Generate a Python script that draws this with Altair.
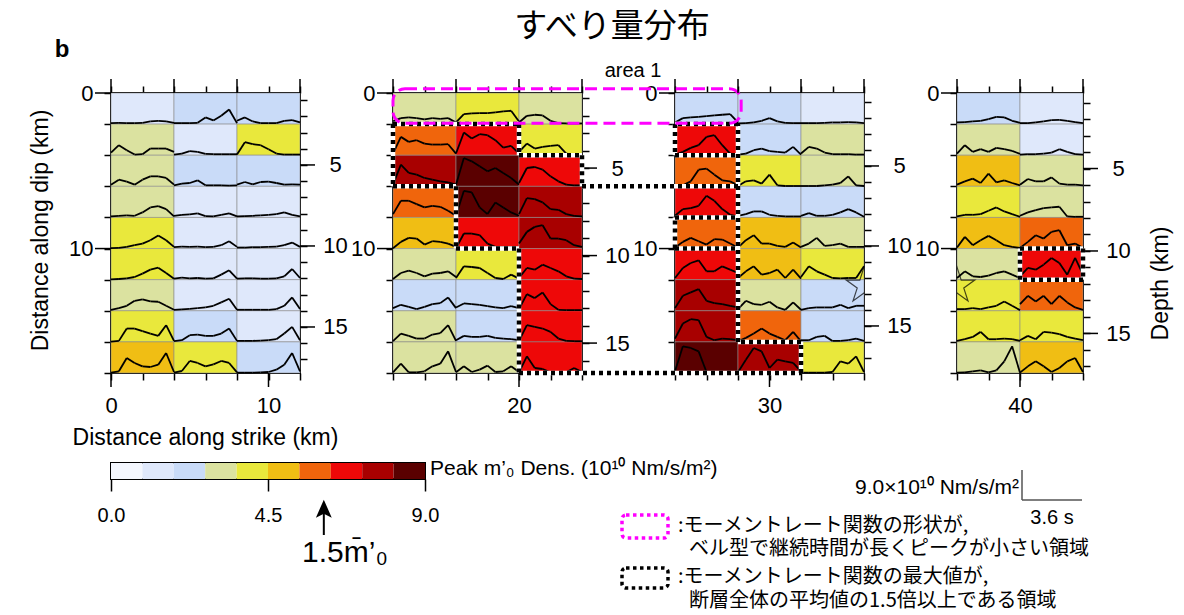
import altair as alt
import pandas as pd

# ---------------- layout constants ----------------
PX_PER_KM = 15.75
PANEL_H = 280
PANEL_START = [0, 12, 24, 36]
PANEL_END = [12, 24, 36, 44]
COL_W = 4
ROW_H = 2
GAP_PX = 93
WIDTHS = [round((e - s) * PX_PER_KM) for s, e in zip(PANEL_START, PANEL_END)]
ORIGINS = [sum(WIDTHS[:k]) + GAP_PX * k for k in range(4)]
LEGEND_TOP = 463 - 93   # offset of the colour bar below the top of the panels

DEPTH_DOMAIN = [[0.56, 17.84], [0.71, 16.71], [0.44, 17.94], [0.42, 17.40]]

# ---------------- colour scale ----------------
COLOR_BREAKS = [0.9, 1.8, 2.7, 3.6, 4.5, 5.4, 6.3, 7.2, 8.1]
COLORS = ["#f4f7fe", "#dfe8fb", "#c9dbf8", "#dbe2a0", "#e9e83c",
          "#f0be14", "#f0650c", "#ee0808", "#a80000", "#5a0000"]
COLORBAR_EDGES = [0.0, 0.9, 1.8, 2.7, 3.6, 4.5, 5.4, 6.3, 7.2, 8.1, 9.0]
COLORBAR_TICKS = [0.0, 4.5, 9.0]
THRESHOLD = 6.1  # 1.5 x mean peak

# ---------------- cell peak values (10^10 Nm/s/m^2) ----------------
P1_PEAK = [[1.4, 2.2, 2.2], [3.1, 1.4, 4.0], [3.1, 2.2, 2.2], [3.1, 1.4, 1.4], [4.0, 1.4, 1.4],
           [4.0, 1.4, 1.4], [3.1, 1.4, 1.4], [4.0, 2.2, 1.4], [5.0, 4.0, 2.2]]
P2_PEAK = [[3.1, 4.0, 3.1], [5.8, 6.8, 4.0], [7.6, 8.6, 6.8], [5.8, 8.6, 7.6], [5.0, 6.8, 7.6],
           [3.1, 4.0, 6.8], [2.2, 2.2, 6.8], [3.1, 2.2, 6.8], [3.1, 3.1, 6.8]]
P3_PEAK = [[2.2, 2.2, 1.4], [6.8, 2.2, 3.1], [5.8, 4.0, 3.1], [6.8, 2.2, 2.2], [5.8, 5.0, 3.1],
           [6.8, 5.0, 4.0], [7.6, 3.1, 2.2], [7.6, 5.8, 2.2], [8.6, 7.6, 4.0]]
P4_PEAK = [[2.2, 1.4], [3.1, 1.4], [5.0, 3.1], [4.0, 3.1], [5.0, 5.8],
           [3.1, 6.8], [4.0, 5.8], [4.0, 4.0], [3.1, 5.0]]

# ---------------- moment-rate functions (10^10 Nm/s/m^2), 9 samples per cell ----------------
P1_WAVE = [
    [[0.3, 0.4, 0.3, 0.3, 0.4, 0.8, 1.0, 0.8, 0.4], [0.3, 0.3, 0.3, 0.4, 2.0, 1.1, 2.5, 4.4, 0.3], [1.0, 2.0, 0.8, 0.3, 0.3, 0.3, 1.0, 1.2, 0.5]],
    [[0.8, 3.0, 1.5, 0.2, 0.3, 2.0, 2.0, 2.0, 1.0], [0.2, 0.5, 1.2, 1.0, 0.4, 0.3, 0.3, 0.3, 0.3], [0.2, 3.9, 3.3, 3.0, 1.8, 0.5, 0.2, 0.2, 0.2]],
    [[0.5, 2.0, 1.4, 0.5, 2.0, 3.0, 3.0, 2.5, 0.5], [0.3, 0.8, 1.0, 1.8, 0.3, 0.3, 0.3, 0.2, 0.3], [0.5, 1.3, 0.6, 1.3, 1.4, 1.0, 0.5, 0.6, 0.5]],
    [[0.3, 0.5, 0.6, 0.5, 1.5, 3.0, 3.4, 2.5, 0.3], [0.5, 0.8, 0.9, 1.2, 0.4, 0.3, 0.8, 1.2, 0.3], [0.3, 0.4, 0.5, 0.6, 0.8, 1.0, 1.5, 0.8, 0.3]],
    [[0.1, 0.2, 0.5, 1.0, 1.5, 2.5, 3.9, 2.5, 0.5], [0.4, 0.6, 0.5, 0.6, 0.4, 0.5, 1.0, 2.2, 0.5], [0.3, 0.3, 0.4, 0.4, 0.5, 0.6, 1.0, 1.8, 0.5]],
    [[0.1, 0.2, 0.4, 0.8, 1.8, 3.0, 3.6, 2.0, 0.3], [0.3, 0.6, 0.4, 0.5, 0.3, 0.4, 1.5, 2.8, 0.3], [0.3, 0.4, 0.4, 0.3, 0.3, 0.4, 1.0, 3.2, 0.5]],
    [[0.3, 0.8, 1.5, 3.0, 3.4, 2.8, 2.7, 1.5, 0.3], [0.3, 0.4, 0.6, 0.8, 1.0, 1.5, 2.5, 3.6, 0.3], [0.3, 0.3, 0.3, 0.3, 0.3, 0.5, 1.5, 4.0, 0.5]],
    [[0.1, 0.3, 4.0, 4.0, 3.2, 2.5, 1.8, 5.0, 0.3], [0.2, 0.5, 2.0, 2.2, 1.8, 1.8, 2.5, 4.0, 0.3], [0.3, 0.3, 0.3, 0.4, 0.5, 0.8, 2.5, 4.5, 0.5]],
    [[0.1, 0.5, 4.5, 3.0, 2.0, 1.8, 2.5, 6.0, 0.3], [0.1, 0.6, 3.6, 3.0, 2.0, 2.6, 3.6, 3.0, 0.2], [0.1, 0.1, 0.1, 0.2, 0.3, 1.0, 2.5, 6.0, 0.5]],
]
P2_WAVE = [
    [[0.8, 1.8, 2.0, 1.8, 1.4, 1.8, 1.6, 1.8, 0.5], [0.5, 3.0, 3.2, 3.3, 3.3, 3.5, 3.8, 4.0, 0.8], [0.5, 2.5, 2.8, 2.6, 1.0, 0.3, 0.2, 0.2, 0.2]],
    [[0.5, 5.5, 4.0, 4.5, 3.5, 3.2, 3.2, 3.3, 0.5], [0.5, 6.8, 5.0, 6.3, 6.0, 4.5, 2.3, 2.8, 0.5], [1.0, 3.5, 2.0, 2.5, 2.8, 3.0, 0.5, 0.2, 0.2]],
    [[0.5, 6.5, 4.0, 3.5, 2.5, 2.0, 1.5, 1.2, 0.5], [0.5, 8.5, 7.5, 6.0, 4.5, 5.5, 4.0, 2.5, 0.5], [1.0, 5.5, 5.8, 5.0, 3.0, 1.5, 0.5, 0.3, 0.3]],
    [[1.0, 5.0, 5.0, 4.0, 3.0, 3.5, 3.2, 2.0, 0.5], [0.5, 8.0, 7.5, 3.0, 1.0, 4.5, 3.0, 1.5, 0.5], [1.0, 5.8, 5.5, 4.5, 2.5, 2.3, 1.0, 0.5, 0.3]],
    [[0.1, 2.0, 3.2, 3.0, 1.2, 2.2, 2.0, 1.5, 0.5], [0.1, 4.5, 4.5, 4.0, 1.5, 0.5, 0.5, 0.5, 0.3], [1.5, 5.0, 6.5, 7.0, 3.0, 3.0, 2.5, 1.0, 0.5]],
    [[0.2, 2.0, 2.7, 2.0, 1.0, 1.8, 2.0, 2.5, 0.8], [0.5, 4.0, 3.8, 3.5, 2.0, 0.5, 0.2, 1.5, 0.3], [0.5, 3.5, 3.0, 4.5, 3.5, 2.5, 1.0, 0.3, 0.2]],
    [[0.8, 1.8, 1.2, 0.5, 1.2, 2.0, 2.3, 4.0, 0.8], [1.0, 2.2, 2.0, 1.8, 1.4, 1.0, 0.8, 1.4, 0.8], [0.5, 5.0, 3.8, 5.5, 2.0, 0.3, 0.2, 0.2, 0.2]],
    [[0.2, 2.5, 1.8, 1.0, 1.0, 2.2, 2.6, 5.0, 0.3], [0.5, 1.8, 1.5, 1.5, 1.8, 1.2, 1.0, 0.8, 0.5], [0.3, 5.0, 4.5, 4.0, 3.0, 1.0, 0.3, 0.2, 0.2]],
    [[0.2, 2.8, 0.2, 0.2, 0.5, 2.0, 2.8, 6.5, 0.3], [0.2, 2.0, 0.3, 1.0, 2.2, 0.3, 0.5, 2.0, 0.3], [0.2, 5.0, 1.5, 1.2, 0.2, 0.2, 0.2, 1.5, 0.3]],
]
P3_WAVE = [
    [[0.5, 1.8, 2.0, 2.2, 2.4, 2.6, 2.8, 3.0, 0.5], [0.2, 0.3, 0.5, 1.0, 1.8, 0.8, 0.4, 0.3, 0.3], [0.3, 0.3, 0.3, 0.4, 0.5, 0.5, 0.6, 0.5, 0.3]],
    [[0.1, 1.0, 2.2, 3.0, 5.5, 6.0, 3.0, 0.5, 0.1], [0.2, 0.5, 1.5, 2.0, 1.2, 1.0, 0.8, 2.5, 0.2], [0.5, 2.5, 2.0, 0.8, 0.3, 0.3, 0.3, 0.2, 0.2]],
    [[0.1, 0.3, 1.5, 5.0, 5.3, 3.5, 1.8, 1.5, 0.3], [0.1, 1.5, 1.8, 0.8, 3.5, 0.3, 0.1, 0.1, 0.1], [0.1, 0.1, 0.1, 0.3, 0.5, 1.0, 3.0, 0.3, 0.1]],
    [[0.5, 2.5, 2.8, 3.5, 6.5, 5.0, 2.5, 0.8, 0.3], [0.5, 1.0, 1.8, 1.8, 0.8, 0.5, 0.3, 0.3, 0.3], [0.5, 1.3, 0.5, 0.5, 0.8, 1.5, 2.5, 1.5, 0.2]],
    [[0.3, 2.0, 3.2, 2.2, 1.2, 2.8, 2.7, 1.5, 0.3], [0.3, 2.5, 4.0, 1.5, 1.5, 0.8, 0.5, 1.8, 0.3], [0.5, 1.5, 3.2, 0.8, 1.0, 1.5, 0.5, 0.5, 0.5]],
    [[0.5, 3.5, 5.0, 5.8, 2.5, 2.5, 4.0, 3.0, 2.0], [0.5, 2.5, 4.0, 1.5, 2.0, 3.0, 0.5, 3.0, 0.3], [0.8, 4.0, 2.5, 1.5, 0.5, 0.4, 0.5, 0.5, 4.0]],
    [[0.8, 4.5, 5.5, 6.5, 3.0, 2.3, 2.0, 1.5, 1.0], [0.5, 3.0, 2.0, 1.8, 2.7, 1.0, 0.3, 2.5, 0.3], [0.3, 0.8, 1.0, 1.0, 1.0, 1.8, 0.8, 1.5, 1.5]],
    [[1.0, 5.5, 6.8, 6.5, 1.5, 0.5, 1.0, 0.8, 0.5], [0.2, 1.2, 2.5, 4.0, 2.5, 1.5, 0.5, 3.0, 0.2], [0.5, 0.5, 1.5, 1.8, 0.3, 0.3, 0.5, 1.0, 0.3]],
    [[0.5, 8.0, 7.5, 6.5, 0.3, 0.2, 0.2, 0.2, 0.2], [0.2, 4.0, 7.5, 6.5, 1.5, 4.0, 3.5, 3.0, 0.5], [0.1, 0.1, 0.1, 0.1, 0.3, 3.5, 2.8, 5.0, 0.3]],
]
P4_WAVE = [
    [[0.5, 0.6, 0.8, 1.0, 1.5, 2.2, 2.0, 1.0, 0.4], [0.3, 0.3, 0.5, 0.8, 1.2, 1.3, 1.0, 0.6, 0.3]],
    [[0.5, 3.0, 1.0, 1.8, 1.0, 2.2, 1.8, 1.3, 0.4], [0.2, 0.3, 0.3, 0.5, 0.8, 1.8, 1.0, 0.3, 0.2]],
    [[0.5, 1.5, 2.3, 1.0, 3.8, 1.2, 1.8, 1.0, 0.3], [0.5, 2.2, 1.5, 1.5, 2.7, 0.8, 0.5, 0.5, 0.3]],
    [[0.3, 0.8, 0.8, 1.0, 2.0, 3.0, 1.8, 1.0, 0.2], [0.5, 1.5, 2.2, 2.8, 3.0, 3.2, 0.3, 0.2, 0.2]],
    [[0.3, 3.5, 1.0, 2.5, 3.8, 2.5, 1.0, 0.5, 0.2], [0.2, 2.0, 4.0, 3.0, 5.0, 5.5, 1.0, 1.5, 0.2]],
    [[0.5, 2.5, 1.0, 0.8, 1.2, 2.0, 2.5, 1.5, 0.5], [1.0, 3.5, 3.0, 4.5, 6.5, 5.0, 1.5, 6.5, 1.5]],
    [[0.5, 0.5, 0.8, 0.5, 1.0, 1.5, 2.8, 1.5, 0.2], [2.0, 4.5, 2.8, 4.5, 2.0, 4.5, 2.5, 1.0, 0.3]],
    [[0.3, 0.8, 1.5, 3.0, 0.8, 0.8, 1.0, 0.8, 0.3], [0.5, 1.8, 0.8, 3.0, 2.8, 2.3, 1.5, 1.0, 0.5]],
    [[0.1, 0.2, 0.5, 0.8, 0.2, 0.8, 3.5, 8.0, 0.1], [0.1, 2.0, 3.5, 2.0, 0.3, 1.5, 3.5, 4.5, 0.3]],
]
PEAKS = [P1_PEAK, P2_PEAK, P3_PEAK, P4_PEAK]
WAVES = [P1_WAVE, P2_WAVE, P3_WAVE, P4_WAVE]

SAMPLE_DT = 0.4725          # s between samples
KM_PER_S = 4.0 / 3.78       # along-strike km per second of waveform
WAVE_UNIT_KM = 1.93 / 9.0   # dip-km per 10^10 Nm/s/m^2
SCALE_BAR_AMP = 9.0
SCALE_BAR_T = 3.6

# dotted outlines: (panel number, km along strike, km along dip)
OUTLINE_P23 = [
    [(2, 12, 2), (2, 12, 6), (2, 16, 6), (2, 16, 10), (2, 20, 10), (2, 20, 18), (3, 32, 18),
     (3, 32, 16), (3, 28, 16), (3, 28, 2), (3, 24, 2), (3, 24, 4)],
    [(2, 12, 2), (2, 20, 2), (2, 20, 4), (2, 24, 4), (2, 24, 6), (3, 28, 6)],
    [(3, 24, 4), (3, 28, 4)],
    [(3, 24, 10), (3, 24, 8), (3, 28, 8)],
    [(3, 24, 10), (3, 28, 10)],
]
OUTLINE_P4 = [[(4, 40, 10), (4, 44, 10), (4, 44, 12), (4, 40, 12), (4, 40, 10)]]
MAGENTA_BOX = [(2, 12, -0.28), (3, 28.2, 1.95)]
STAR = (36, 12.4)
STAR_PATH = ("M0,-1L0.2245,-0.309L0.951,-0.309L0.363,0.118L0.588,0.809L0,0.382L-0.588,0.809"
             "L-0.363,0.118L-0.951,-0.309L-0.2245,-0.309Z")
ARROW_PATH = "M0,-1L0.6,0.35L0,0.05L-0.6,0.35Z"


def host_x(panel, km, host):
    j, h = panel - 1, host - 1
    return km - PANEL_START[j] + PANEL_START[h] + (ORIGINS[j] - ORIGINS[h]) / PX_PER_KM


def cell_frame(k):
    recs = []
    for r, row in enumerate(PEAKS[k]):
        for c, v in enumerate(row):
            x0 = PANEL_START[k] + c * COL_W
            recs.append(dict(x0=x0, x1=x0 + COL_W, d0=r * ROW_H, d1=(r + 1) * ROW_H, peak=v))
    return pd.DataFrame(recs)


def wave_segments(k):
    recs = []
    for r, row in enumerate(WAVES[k]):
        for c, w in enumerate(row):
            x0 = PANEL_START[k] + c * COL_W
            base = (r + 1) * ROW_H
            pts = [(x0 + i * SAMPLE_DT * KM_PER_S, base - a * WAVE_UNIT_KM) for i, a in enumerate(w)]
            for (xa, ya), (xb, yb) in zip(pts[:-1], pts[1:]):
                recs.append(dict(x=xa, y=ya, x2=xb, y2=yb))
    return pd.DataFrame(recs)


def outline_segments(polys, host):
    recs = []
    for poly in polys:
        pts = [(host_x(p, km, host), dip) for p, km, dip in poly]
        for (xa, ya), (xb, yb) in zip(pts[:-1], pts[1:]):
            recs.append(dict(x=xa, y=ya, x2=xb, y2=yb))
    return pd.DataFrame(recs)


color_scale = alt.Scale(type="threshold", domain=COLOR_BREAKS, range=COLORS)
FONT = "Liberation Sans"
JP = "Noto Sans CJK JP"
one = pd.DataFrame({"a": [0]})
TICK = 7


def seg_chart(df, xs, ys, **mark):
    return alt.Chart(df).mark_rule(**mark).encode(
        x=alt.X("x:Q", scale=xs, axis=None), x2="x2:Q",
        y=alt.Y("y:Q", scale=ys, axis=None), y2="y2:Q")


def panel(k):
    s, e = PANEL_START[k], PANEL_END[k]
    W = WIDTHS[k]
    xs = alt.Scale(domain=[s, e], nice=False, zero=False)
    ys = alt.Scale(domain=[0, 18], reverse=True, nice=False, zero=False)
    dlo, dhi = DEPTH_DOMAIN[k]
    ds = alt.Scale(domain=[dlo, dhi], reverse=True, nice=False, zero=False)
    evens = list(range(s, e + 1, 2))

    bkw = dict(orient="bottom", values=evens, labelExpr="datum.value % 10 === 0 ? datum.label : ''",
               tickSize=TICK, labelPadding=15, labelFlush=False, labelOverlap=False)
    if k == 0:
        bkw.update(title="Distance along strike (km)", titleX=94, titleY=64,
                   titleAlign="center", titleBaseline="middle")
    else:
        bkw["title"] = None
    lkw = dict(orient="left", values=list(range(0, 19, 2)),
               labelExpr="datum.value % 10 === 0 ? datum.label : ''",
               tickSize=TICK, labelPadding=11, labelOverlap=False)
    if k == 0:
        lkw.update(title="Distance along dip (km)", titleX=-71, titleY=137, titleAngle=270,
                   titleAlign="center", titleBaseline="middle")
    else:
        lkw["title"] = None

    cells = alt.Chart(cell_frame(k)).mark_rect(stroke="#8c8c8c", strokeWidth=0.6).encode(
        x=alt.X("x0:Q", scale=xs, axis=alt.Axis(**bkw)), x2="x1:Q",
        y=alt.Y("d0:Q", scale=ys, axis=alt.Axis(**lkw)), y2="d1:Q",
        color=alt.Color("peak:Q", scale=color_scale, legend=None))

    waves = seg_chart(wave_segments(k), xs, ys, color="black", strokeWidth=1.8)

    top = alt.Chart(pd.DataFrame({"km": evens})).mark_point(opacity=0).encode(
        x=alt.X("km:Q", scale=xs, axis=alt.Axis(orient="top", values=evens, labels=False, title=None,
                                                tickSize=TICK)))

    dvals = [d for d in range(0, 19) if dlo <= d <= dhi]
    rkw = dict(orient="right", values=dvals, labelExpr="datum.value % 5 === 0 ? datum.label : ''",
               tickSize=TICK, labelAlign="center", labelPadding=28, labelOverlap=False)
    if k == 3:
        rkw.update(title="Depth (km)", titleX=77, titleY=190, titleAngle=270,
                   titleAlign="center", titleBaseline="middle")
    else:
        rkw["title"] = None
    depth = alt.Chart(pd.DataFrame({"depth": [dlo, dhi]})).mark_point(opacity=0).encode(
        y=alt.Y("depth:Q", scale=ds, axis=alt.Axis(**rkw)))

    # long (major) ticks drawn as rules at the labelled positions
    major_x = pd.DataFrame({"v": [v for v in evens if v % 10 == 0]})
    top_major = pd.DataFrame({"v": [v for v in evens if v % 4 == 0]})
    major_dip = pd.DataFrame({"v": [0, 10]})
    major_depth = pd.DataFrame({"v": [v for v in dvals if v % 5 == 0]})
    tick_layers = [
        alt.Chart(major_x).mark_rule(color="black", strokeWidth=1.5).encode(
            x=alt.X("v:Q", scale=xs, axis=None), y=alt.value(PANEL_H), y2=alt.value(PANEL_H + 14)),
        alt.Chart(top_major).mark_rule(color="black", strokeWidth=1.5).encode(
            x=alt.X("v:Q", scale=xs, axis=None), y=alt.value(0), y2=alt.value(-14)),
        alt.Chart(major_dip).mark_rule(color="black", strokeWidth=1.5).encode(
            y=alt.Y("v:Q", scale=ys, axis=None), x=alt.value(0), x2=alt.value(-16)),
        alt.Chart(major_depth).mark_rule(color="black", strokeWidth=1.5).encode(
            y=alt.Y("v:Q", scale=ds, axis=None), x=alt.value(W), x2=alt.value(W + 15)),
    ]

    layers = [cells, waves]

    if k == 2:
        od = outline_segments(OUTLINE_P23, 3)
        layers += [seg_chart(od, xs, ys, color="white", strokeWidth=4.5),
                   seg_chart(od, xs, ys, color="black", strokeWidth=4.5, strokeDash=[4, 4])]
        (p1, x1, y1), (p2, x2, y2) = MAGENTA_BOX
        mdf = pd.DataFrame({"x": [host_x(p1, x1, 3)], "x2": [host_x(p2, x2, 3)], "y": [y1], "y2": [y2]})
        layers.append(alt.Chart(mdf).mark_rect(fillOpacity=0, stroke="#ff00ff", strokeWidth=3,
                                               strokeDash=[12, 6], cornerRadius=12).encode(
            x=alt.X("x:Q", scale=xs, axis=None), x2="x2:Q",
            y=alt.Y("y:Q", scale=ys, axis=None), y2="y2:Q"))
        layers.append(alt.Chart(one).mark_text(text="area 1", font=FONT, fontSize=20).encode(
            x=alt.value(-42), y=alt.value(-22)))
    if k == 3:
        od = outline_segments(OUTLINE_P4, 4)
        layers += [seg_chart(od, xs, ys, color="white", strokeWidth=4.5),
                   seg_chart(od, xs, ys, color="black", strokeWidth=4.5, strokeDash=[4, 4])]
    if k in (2, 3):
        layers.append(alt.Chart(pd.DataFrame({"x": [STAR[0]], "y": [STAR[1]]})).mark_point(
            shape=STAR_PATH, size=1400, filled=False, color="black", strokeWidth=1.2, clip=True).encode(
            x=alt.X("x:Q", scale=xs, axis=None), y=alt.Y("y:Q", scale=ys, axis=None)))
    if k == 0:
        layers.append(alt.Chart(one).mark_text(text="すべり量分布", font=JP, fontSize=33).encode(
            x=alt.value(501), y=alt.value(-66)))
        layers.append(alt.Chart(one).mark_text(text="b", font=FONT, fontSize=24, fontWeight="bold").encode(
            x=alt.value(-49), y=alt.value(-43)))
    layers += tick_layers + [top, depth]
    return alt.layer(*layers).resolve_scale(y="independent").resolve_axis(
        x="independent", y="independent").properties(width=W, height=PANEL_H)


panels = alt.hconcat(*[panel(k) for k in range(4)], spacing=GAP_PX, bounds="flush")

# ---------------- legend row ----------------
LEG_W = 314
cb = pd.DataFrame({"lo": COLORBAR_EDGES[:-1], "hi": COLORBAR_EDGES[1:]})
cb["mid"] = (cb["lo"] + cb["hi"]) / 2
lx = alt.Scale(domain=[0, 9], nice=False, zero=False)
leg_axis = alt.Axis(values=COLORBAR_TICKS, format=".1f", tickSize=12, labelPadding=14, labelFontSize=20,
                    labelFlush=False, labelOverlap=False, title=None, domain=False)

bar = alt.Chart(cb).mark_rect().encode(
    x=alt.X("lo:Q", scale=lx, axis=leg_axis),
    x2="hi:Q", y=alt.value(0), y2=alt.value(16),
    color=alt.Color("mid:Q", scale=color_scale, legend=None))

thr = pd.DataFrame({"t": [THRESHOLD]})
shaft = alt.Chart(thr).mark_rule(color="black", strokeWidth=2).encode(
    x=alt.X("t:Q", scale=lx, axis=leg_axis), y=alt.value(44), y2=alt.value(72))
head = alt.Chart(thr).mark_point(shape=ARROW_PATH, size=700, filled=True,
                                 color="black", opacity=1).encode(
    x=alt.X("t:Q", scale=lx, axis=leg_axis), y=alt.value(50))

amp_px = SCALE_BAR_AMP * WAVE_UNIT_KM * PANEL_H / 18
t_px = SCALE_BAR_T * KM_PER_S * PX_PER_KM
SB_X, SB_Y = 911, 37


def txt(s, x, y, size=20, align="left", font=FONT):
    return alt.Chart(one).mark_text(text=s, font=font, fontSize=size, align=align, baseline="middle").encode(
        x=alt.value(x), y=alt.value(y))


leg_layers = [
    bar, shaft, head,
    txt("Peak m’₀ Dens. (10¹⁰ Nm/s/m²)", 319, 6, 21),
    txt("1.5m̄’₀", 234, 90, 30, "center"),
    txt("9.0×10¹⁰ Nm/s/m²", 908, 25, 21, "right"),
    alt.Chart(one).mark_rule(color="#555", strokeWidth=1.5).encode(
        x=alt.value(SB_X), y=alt.value(SB_Y - amp_px), y2=alt.value(SB_Y)),
    alt.Chart(one).mark_rule(color="#555", strokeWidth=1.5).encode(
        x=alt.value(SB_X), x2=alt.value(SB_X + t_px), y=alt.value(SB_Y)),
    txt("3.6 s", 941, 55, 20, "center"),
    alt.Chart(one).mark_rect(fillOpacity=0, stroke="#ff00ff", strokeWidth=3.5, strokeDash=[3.5, 3.5],
                             cornerRadius=4).encode(
        x=alt.value(511), x2=alt.value(557), y=alt.value(52), y2=alt.value(75)),
    txt(":モーメントレート関数の形状が,", 567, 63, 20, font=JP),
    txt("ベル型で継続時間が長くピークが小さい領域", 578, 86, 20, font=JP),
    alt.Chart(one).mark_rect(fillOpacity=0, stroke="black", strokeWidth=3.5, strokeDash=[3.5, 3.5],
                             cornerRadius=4).encode(
        x=alt.value(511), x2=alt.value(557), y=alt.value(105), y2=alt.value(125)),
    txt(":モーメントレート関数の最大値が,", 567, 114, 20, font=JP),
    txt("断層全体の平均値の1.5倍以上である領域", 578, 138, 20, font=JP),
]
legend = alt.layer(*leg_layers).properties(width=LEG_W, height=16)

chart = alt.vconcat(panels, legend, spacing=LEGEND_TOP, bounds="flush").properties(
    autosize=alt.AutoSizeParams(type="none"),
    padding={"left": 111, "top": 93, "right": 1073, "bottom": 522}
).configure_view(
    stroke="black", strokeWidth=2
).configure_axis(
    labelFont=FONT, labelFontSize=22, labelColor="black", titleFont=FONT, titleFontSize=23,
    titleFontWeight="normal", titleColor="black", tickColor="black", tickWidth=1.5, domain=False, grid=False
)

chart.save("out.html", embed_options={"renderer": "svg", "actions": False})
